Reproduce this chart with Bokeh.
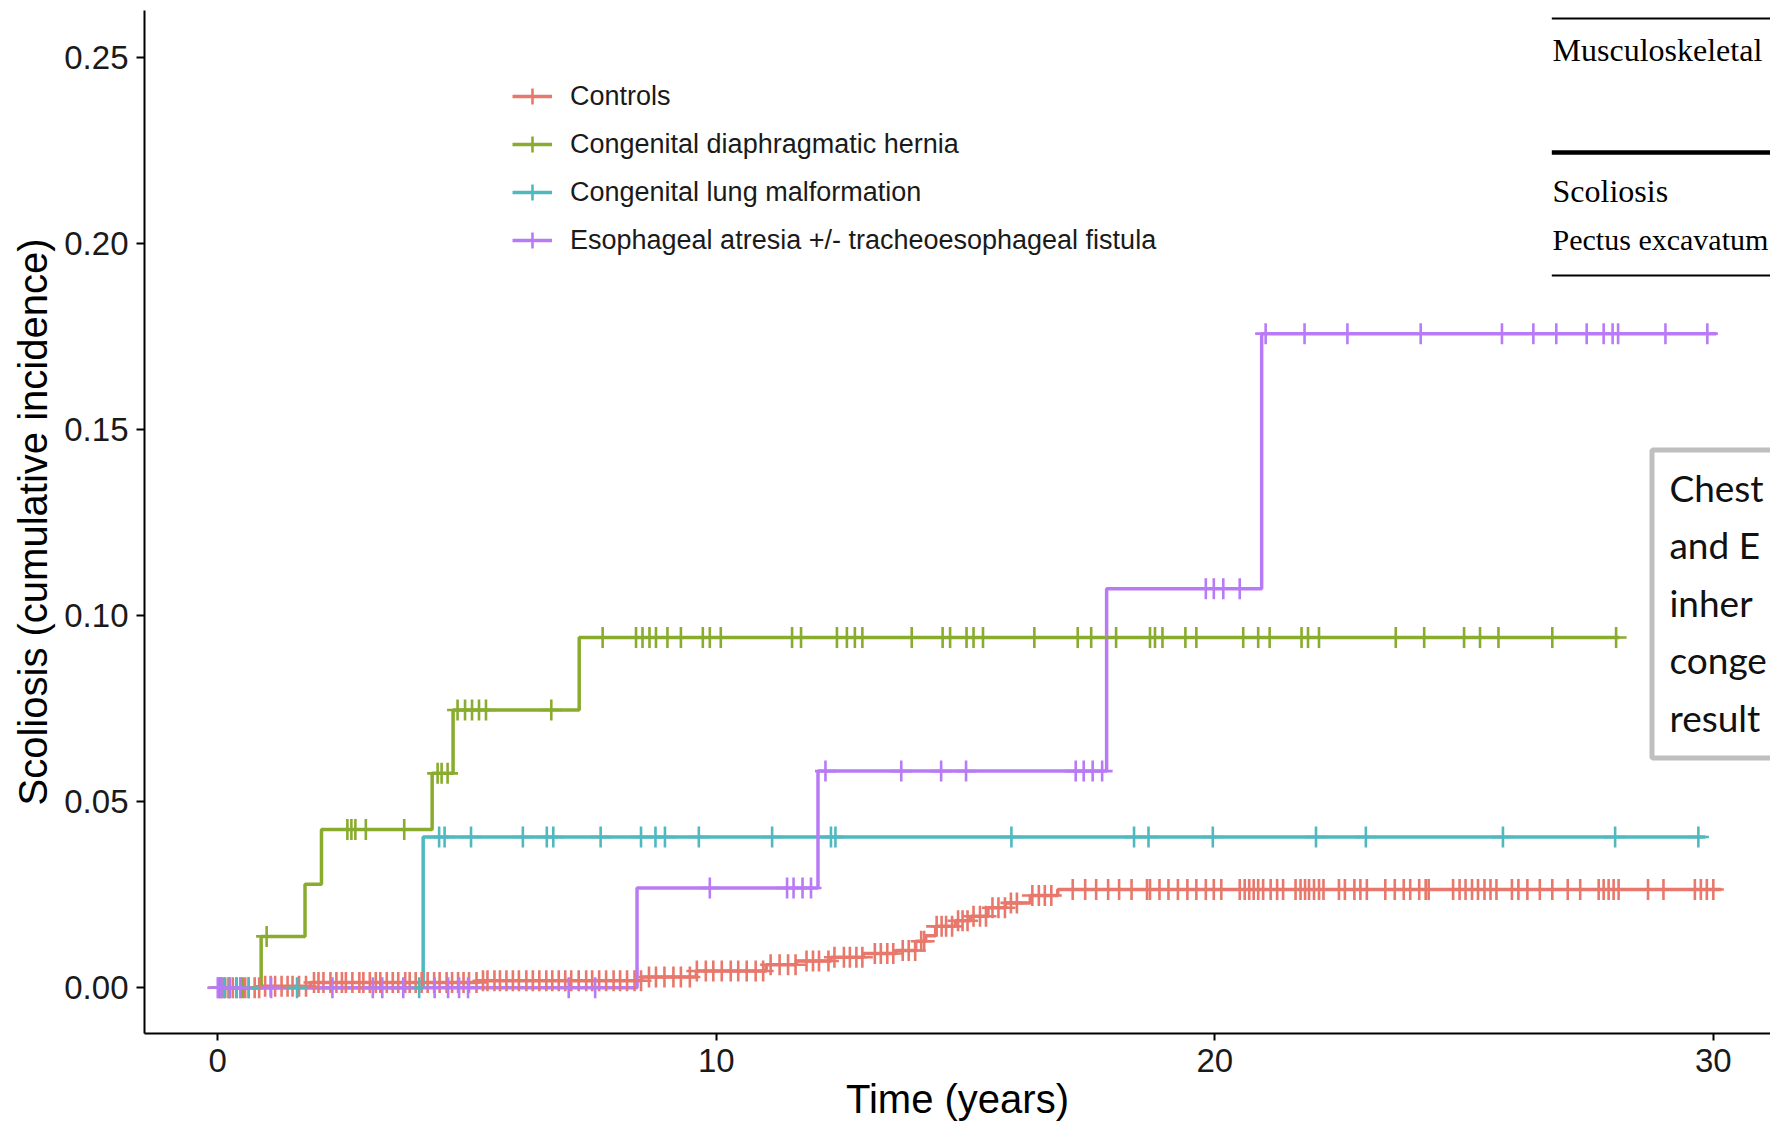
import numpy as np
from bokeh.plotting import figure
from bokeh.models import Range1d, FixedTicker, Legend, LegendItem, PrintfTickFormatter
from bokeh.embed import file_html
from bokeh.resources import INLINE
from bokeh.core.properties import value

# ---------------- data ----------------
group_names = ["Controls", "Congenital diaphragmatic hernia",
               "Congenital lung malformation",
               "Esophageal atresia +/- tracheoesophageal fistula"]
group_colors = ["#E8786C", "#89AC2F", "#4FB9C0", "#B97BF5"]

x_ticks = [0, 10, 20, 30]
y_ticks = [0.00, 0.05, 0.10, 0.15, 0.20, 0.25]

# Controls
ctrl_event_t = [0.9, 1.86, 5.2, 8.5, 9.6, 11.0, 11.6, 12.3, 12.95, 13.6, 14.0, 14.2,
                14.4, 14.8, 15.1, 15.45, 15.8, 16.3, 16.85]
ctrl_event_v = [0.0004, 0.0014, 0.0019, 0.0029, 0.0045, 0.0062, 0.0072, 0.0082, 0.0092,
                0.0100, 0.0125, 0.0140, 0.0165, 0.0180, 0.0192, 0.0215, 0.0228, 0.0248, 0.0264]
ctrl_end = 30.16
ctrl_cens = [0.02, 0.08, 0.15, 0.22, 0.3, 0.37, 0.46, 0.55, 0.62, 0.74, 0.83, 0.95, 1.06, 1.15,
             1.28, 1.4, 1.5, 1.63, 1.77, 1.93, 2.02, 2.12, 2.26, 2.38, 2.49, 2.57, 2.7, 2.84,
             2.92, 3.05, 3.17, 3.26, 3.39, 3.51, 3.62, 3.76, 3.85, 3.97, 4.09, 4.21, 4.34,
             4.45, 4.59, 4.7, 4.82, 4.93, 5.04, 5.19, 5.32, 5.41, 5.55, 5.66, 5.79, 5.92,
             6.04, 6.19, 6.32, 6.45, 6.59, 6.71, 6.84, 6.97, 7.09, 7.24, 7.39, 7.51, 7.65,
             7.79, 7.94, 8.07, 8.21, 8.36, 8.49, 8.65, 8.79, 8.96, 9.14, 9.29, 9.47, 9.61,
             9.79, 9.94, 10.11, 10.29, 10.44, 10.61, 10.79, 10.94, 11.09, 11.27, 11.44, 11.59,
             11.81, 11.94, 12.06, 12.25, 12.37, 12.56, 12.68, 12.81, 12.93, 13.18, 13.30,
             13.43, 13.55, 13.74, 13.86, 13.99, 14.11, 14.17, 14.42, 14.52, 14.61, 14.73,
             14.85, 14.94, 15.04, 15.16, 15.29, 15.41, 15.54, 15.66, 15.79, 15.91, 16.03,
             16.34, 16.47, 16.59, 16.72, 17.15, 17.40, 17.62, 17.86, 18.08, 18.33, 18.64,
             18.70, 18.89, 19.07, 19.26, 19.45, 19.63, 19.82, 19.98, 20.13, 20.50, 20.60,
             20.69, 20.78, 20.87, 20.97, 21.12, 21.25, 21.37, 21.62, 21.72, 21.81, 21.89,
             21.99, 22.09, 22.18, 22.49, 22.61, 22.80, 22.92, 23.05, 23.42, 23.61, 23.79,
             23.92, 24.10, 24.23, 24.29, 24.78, 24.91, 25.03, 25.16, 25.28, 25.41, 25.53,
             25.65, 25.96, 26.09, 26.27, 26.52, 26.77, 27.08, 27.33, 27.70, 27.80, 27.90,
             28.00, 28.10, 28.69, 29.00, 29.63, 29.75, 29.87, 30.00]

# Congenital diaphragmatic hernia
cdh_event_t = [0.87, 1.75, 2.08, 4.30, 4.72, 7.25]
cdh_event_v = [0.0138, 0.0278, 0.0425, 0.0576, 0.0746, 0.0941]
cdh_end = 28.12
cdh_cens = [0.05, 0.22, 0.5, 0.98, 2.6, 2.68, 2.76, 2.97, 3.74, 4.41, 4.49, 4.61, 4.81,
            4.96, 5.1, 5.24, 5.38, 6.69, 7.72, 8.39, 8.52, 8.66, 8.79, 9.02, 9.29, 9.73,
            9.87, 10.09, 11.52, 11.70, 12.42, 12.62, 12.78, 12.93, 13.92, 14.54, 14.69,
            15.02, 15.16, 15.35, 16.38, 17.25, 17.52, 18.02, 18.70, 18.80, 18.95, 19.41,
            19.63, 20.57, 20.87, 21.10, 21.74, 21.87, 22.09, 23.63, 24.20, 25.0, 25.32,
            25.69, 26.77, 28.05]

# Congenital lung malformation
clm_event_t = [4.12]
clm_event_v = [0.0405]
clm_end = 29.84
clm_cens = [0.12, 0.38, 0.62, 1.59, 4.04, 4.44, 4.55, 5.08, 6.12, 6.6, 6.73, 7.68, 8.49,
            8.78, 8.97, 9.65, 11.12, 12.3, 12.39, 15.92, 18.38, 18.67, 19.96, 22.03, 23.03,
            25.78, 28.03, 29.7]

# Esophageal atresia +/- TEF
ea_event_t = [8.41, 12.04, 17.83, 20.94]
ea_event_v = [0.0268, 0.0582, 0.1072, 0.1757]
ea_end = 30.06
ea_cens = [0.0, 0.07, 0.24, 0.45, 1.07, 2.3, 3.11, 3.3, 3.72, 4.35, 4.62, 4.84, 5.02,
           7.04, 7.57, 9.87, 11.42, 11.55, 11.73, 11.9, 12.19, 13.71, 14.51, 15.01, 17.21,
           17.37, 17.55, 17.74, 19.82, 19.98, 20.17, 20.5, 21.02, 21.8, 22.66, 24.13, 25.76,
           26.39, 26.85, 27.46, 27.8, 27.98, 28.09, 29.04, 29.88]

groups = [
    (ctrl_event_t, ctrl_event_v, ctrl_end, ctrl_cens),
    (cdh_event_t, cdh_event_v, cdh_end, cdh_cens),
    (clm_event_t, clm_event_v, clm_end, clm_cens),
    (ea_event_t, ea_event_v, ea_end, ea_cens),
]

# ---------------- figure ----------------
FONT = "Liberation Sans"
p = figure(width=1770, height=1132,
           x_range=Range1d(-1.470, 31.147), y_range=Range1d(-0.01228, 0.2625),
           output_backend="svg", toolbar_location=None,
           min_border_left=144, min_border_right=0, min_border_top=10, min_border_bottom=99)
p.background_fill_color = "white"
p.border_fill_color = "white"
p.outline_line_color = None
p.xgrid.visible = False
p.ygrid.visible = False

for ax in (p.xaxis[0], p.yaxis[0]):
    ax.axis_line_width = 2
    ax.axis_line_color = "black"
    ax.major_tick_line_width = 2
    ax.major_tick_line_color = "black"
    ax.major_tick_in = 0
    ax.minor_tick_line_color = None
    ax.major_label_text_font = FONT
    ax.major_label_text_font_size = "33px"
    ax.major_label_text_color = "#1a1a1a"
    ax.major_label_standoff = 8
    ax.axis_label_text_font = FONT
    ax.axis_label_text_font_style = "normal"
    ax.axis_label_text_color = "black"

p.xaxis[0].ticker = FixedTicker(ticks=x_ticks)
p.xaxis[0].major_tick_out = 7
p.xaxis[0].axis_label = "Time (years)"
p.xaxis[0].axis_label_text_font_size = "40px"
p.xaxis[0].axis_label_standoff = 2

p.yaxis[0].ticker = FixedTicker(ticks=y_ticks)
p.yaxis[0].formatter = PrintfTickFormatter(format="%.2f")
p.yaxis[0].major_tick_out = 8
p.yaxis[0].axis_label = "Scoliosis (cumulative incidence)"
p.yaxis[0].axis_label_text_font_size = "40px"
p.yaxis[0].axis_label_standoff = 6


def level_at(times, ev_t, ev_v):
    idx = np.searchsorted(np.array(ev_t), np.array(times), side="right")
    lv = np.concatenate([[0.0], np.array(ev_v)])
    return lv[idx]


line_rs = []
for (ev_t, ev_v, end, cens), col in zip(groups, group_colors):
    xs = [0.0] + list(ev_t) + [end]
    ys = [0.0] + list(ev_v) + [ev_v[-1]]
    r = p.step(x=xs, y=ys, mode="after", line_color=col, line_width=3.5)
    line_rs.append(r)

mark_rs = []
for (ev_t, ev_v, end, cens), col in zip(groups, group_colors):
    r = p.scatter(x=cens, y=level_at(cens, ev_t, ev_v), marker="cross", size=21,
                  line_color=col, line_width=2.6)
    mark_rs.append(r)

legend = Legend(items=[LegendItem(label=n, renderers=[lr, mr])
                       for n, lr, mr in zip(group_names, line_rs, mark_rs)],
                location=(368, 769))
legend.label_text_font = FONT
legend.label_text_font_size = "27px"
legend.label_text_color = "#1a1a1a"
legend.glyph_width = 40
legend.glyph_height = 48
legend.label_height = 48
legend.label_standoff = 18
legend.spacing = 0
legend.padding = 0
legend.margin = 0
legend.border_line_color = None
legend.background_fill_alpha = 0
p.add_layout(legend)

# ---------------- overlaid table / text box (slide elements) ----------------
p.segment(x0=[26.76, 26.76, 26.76], x1=[34, 34, 34],
          y0=[0.26035, 0.22436, 0.19132], y1=[0.26035, 0.22436, 0.19132],
          line_color="black", line_width=[2, 4.5, 2])
p.text(x=[26.775, 26.775], y=[0.25190, 0.21402],
       text=["Musculoskeletal", "Scoliosis"],
       text_font=value("Liberation Serif"), text_font_size="32px",
       text_baseline="middle", text_align="left", text_color="black")
p.text(x=[26.775], y=[0.20105], text=["Pectus excavatum"],
       text_font=value("Liberation Serif"), text_font_size="30px",
       text_baseline="middle", text_align="left", text_color="black")
p.quad(left=[28.77], right=[40], top=[0.14446], bottom=[0.06172],
       fill_color="white", line_color="#BFBFBF", line_width=5)
p.text(x=[29.12] * 5, y=[0.13438, 0.11894, 0.10349, 0.08805, 0.07260],
       text=["Chest", "and E", "inher", "conge", "result"],
       text_font=value("Lato"), text_font_size="37px",
       text_baseline="middle", text_align="left", text_color="#111111")

open("out.html", "w").write(file_html(p, INLINE))
